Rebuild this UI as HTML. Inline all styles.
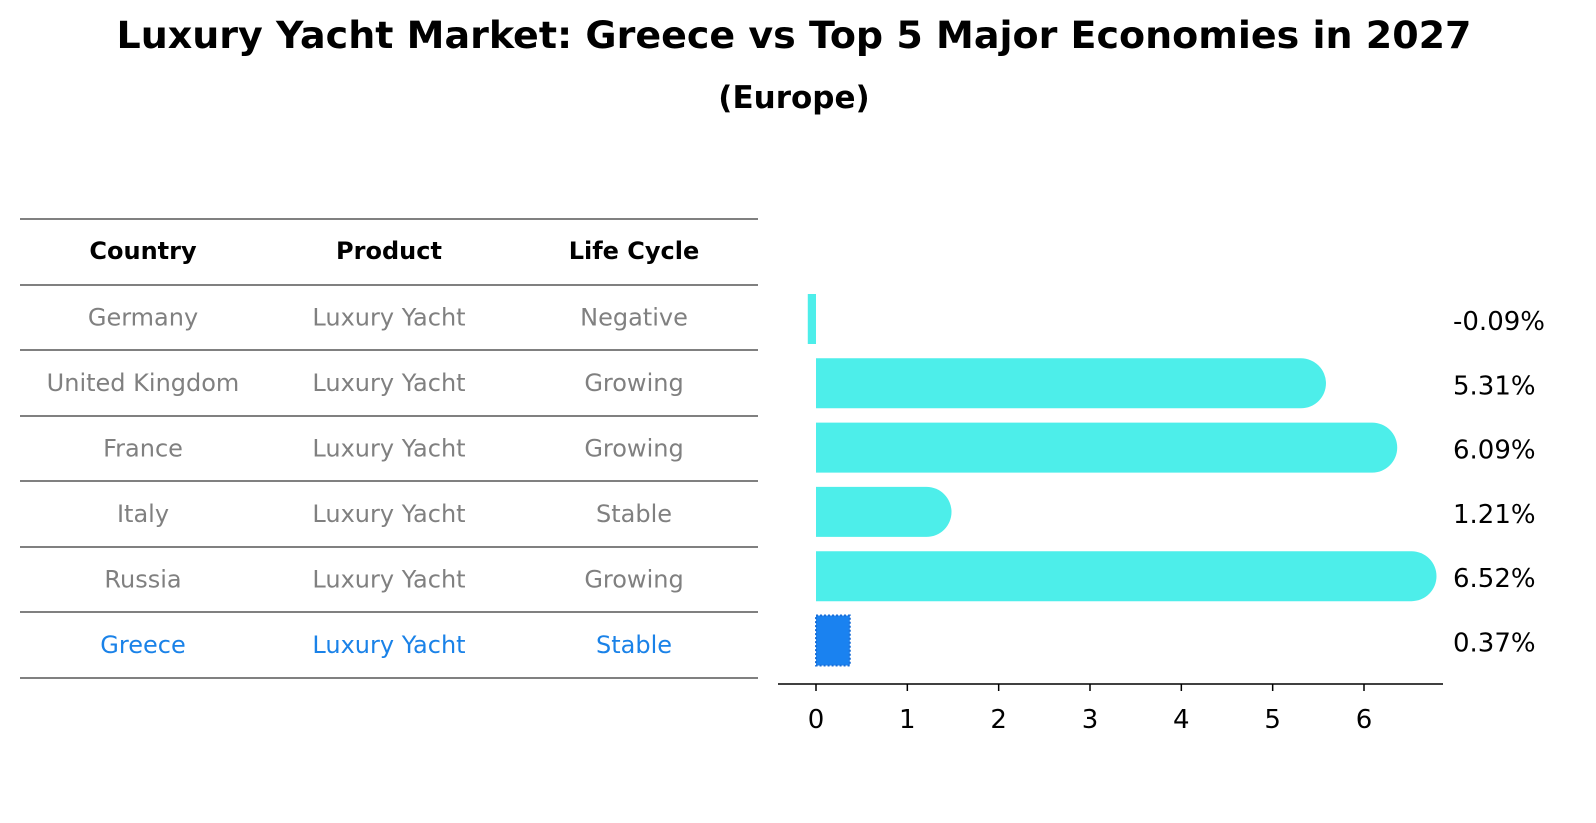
<!DOCTYPE html>
<html><head><meta charset="utf-8"><style>
body{margin:0;background:#fff;font-family:"Liberation Sans","DejaVu Sans",sans-serif}
#wrap{position:relative;width:1596px;height:823px;overflow:hidden}
</style></head><body>
<div id="wrap">
<svg id="svg" width="1596" height="823" xmlns="http://www.w3.org/2000/svg" font-family="DejaVu Sans, Liberation Sans, sans-serif">
<text x="794" y="48" text-anchor="middle" font-size="37" font-weight="bold" textLength="1355" lengthAdjust="spacingAndGlyphs">Luxury Yacht Market: Greece vs Top 5 Major Economies in 2027</text>
<text x="794" y="108" text-anchor="middle" font-size="31" font-weight="bold">(Europe)</text>
<g id="table"></g>
<g id="bars"></g>
</svg>
</div>
<script>
const countries=["Germany","United Kingdom","France","Italy","Russia","Greece"];
const products=["Luxury Yacht","Luxury Yacht","Luxury Yacht","Luxury Yacht","Luxury Yacht","Luxury Yacht"];
const lifeCycles=["Negative","Growing","Growing","Stable","Growing","Stable"];
const values=[-0.09,5.31,6.09,1.21,6.52,0.37];
const valueLabels=["-0.09%","5.31%","6.09%","1.21%","6.52%","0.37%"];
const xTicks=[0,1,2,3,4,5,6];
const NS="http://www.w3.org/2000/svg";
function mk(tag,attrs,parent,text){const e=document.createElementNS(NS,tag);for(const k in attrs)e.setAttribute(k,attrs[k]);if(text!==undefined)e.textContent=text;parent.appendChild(e);return e;}
const table=document.getElementById('table');
const lineYs=[219,285,350,416,481,547,612,678];
lineYs.forEach(y=>{const l=mk('line',{x1:20,x2:758,y1:y,y2:y,stroke:'#000','stroke-width':1},table);

});
const colX=[143,389,634];
["Country","Product","Life Cycle"].forEach((h,i)=>{const t=mk('text',{x:colX[i],y:259,'text-anchor':'middle','font-size':24,'font-weight':'bold'},table,h);

});
countries.forEach((c,r)=>{const y=(lineYs[r+1]+lineYs[r+2])/2+8;const col=r===5?'#1a82e8':'#808080';
[c,products[r],lifeCycles[r]].forEach((v,i)=>{const t=mk('text',{x:colX[i],y:y,'text-anchor':'middle','font-size':24,fill:col},table,v);

});});
const bars=document.getElementById('bars');
const x0=816,scale=(1364-816)/6;
const xs=v=>x0+v*scale;
const yc=i=>319+i*64.3;
const bh=50;
values.forEach((v,i)=>{const y=yc(i)-bh/2;
if(i===5){const r=mk('rect',{x:Math.min(xs(0),xs(v)),y:y,width:Math.abs(xs(v)-xs(0)),height:bh,fill:'#1a82f0',stroke:'#1a6fd8','stroke-width':2,'stroke-dasharray':'2,2'},bars);

}
else if(v<0||Math.abs(v)<0.3){const r=mk('rect',{x:Math.min(xs(0),xs(v)),y:y,width:Math.abs(xs(v)-xs(0)),height:bh,fill:'#4deeea'},bars);

}
else{const xe=xs(v);const p=mk('path',{d:`M${xs(0)},${y} H${xe} A${bh/2},${bh/2} 0 0 1 ${xe},${y+bh} H${xs(0)} Z`,fill:'#4deeea'},bars);

}
const t=mk('text',{x:1453,y:yc(i)+11,'font-size':26},bars,valueLabels[i]);

});
const ax=mk('line',{x1:778,x2:1443,y1:684,y2:684,stroke:'#000','stroke-width':1.5},bars);


xTicks.forEach(v=>{const tk=mk('line',{x1:xs(v),x2:xs(v),y1:684,y2:691,stroke:'#000','stroke-width':1.5},bars);


const t=mk('text',{x:xs(v),y:728,'text-anchor':'middle','font-size':26},bars,String(v));

});
</script>
</body></html>
